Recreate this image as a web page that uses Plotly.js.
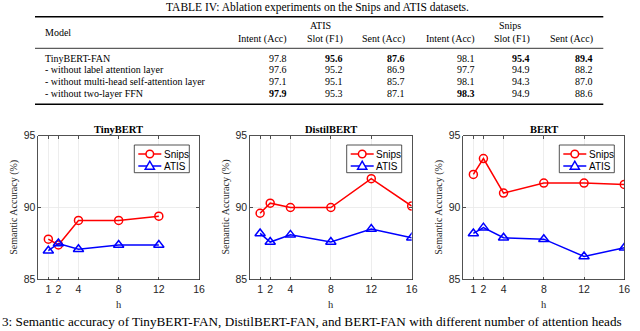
<!DOCTYPE html>
<html>
<head>
<meta charset="utf-8">
<script src="https://cdn.plot.ly/plotly-3.0.1.min.js"></script>
<style>
  html, body { margin: 0; padding: 0; background: #fff; }
  #chart { width: 640px; height: 331px; }
</style>
</head>
<body>
<div id="chart"></div>
<script>
// ---- table data (TABLE IV) ----
const tableTitle = 'TABLE IV: Ablation experiments on the Snips and ATIS datasets.';
const models = [
    'TinyBERT-FAN',
    '- without label attention layer',
    '- without multi-head self-attention layer',
    '- without two-layer FFN'
];
const colHeaders = ['Intent (Acc)', 'Slot (F1)', 'Sent (Acc)', 'Intent (Acc)', 'Slot (F1)', 'Sent (Acc)'];
const atisIntent = [97.8, 97.6, 97.1, 97.9];
const atisSlot = [95.6, 95.2, 95.1, 95.3];
const atisSent = [87.6, 86.9, 85.7, 87.1];
const snipsIntent = [98.1, 97.7, 98.1, 98.3];
const snipsSlot = [95.4, 94.9, 94.3, 94.9];
const snipsSent = [89.4, 88.2, 87.0, 88.6];

// ---- chart data (semantic accuracy vs number of heads h) ----
const panelTitles = ['TinyBERT', 'DistilBERT', 'BERT'];
const hTiny = [1, 2, 4, 8, 12];
const hFull = [1, 2, 4, 8, 12, 16];
const tinySnips = [87.8, 87.4, 89.1, 89.1, 89.4];
const tinyAtis = [87.0, 87.5, 87.1, 87.4, 87.4];
const distilSnips = [89.6, 90.3, 90.0, 90.0, 92.0, 90.1];
const distilAtis = [88.2, 87.6, 88.1, 87.6, 88.5, 87.9];
const bertSnips = [92.3, 93.4, 91.0, 91.7, 91.7, 91.6];
const bertAtis = [88.2, 88.6, 87.9, 87.8, 86.6, 87.2];
const xTicks = [1, 2, 4, 8, 12, 16];
const yTicks = [85, 90, 95];
const seriesNames = ['Snips', 'ATIS'];
const caption = '3: Semantic accuracy of TinyBERT-FAN, DistilBERT-FAN, and BERT-FAN with different number of attention heads';

const W = 640, H = 331;
const px = p => p / W;
const py = p => 1 - p / H;

const SERIF = 'Liberation Serif, Times New Roman, serif';
const SANS = 'Liberation Sans, Arial, Helvetica, sans-serif';
const AXC = '#262626';
const RED = '#ff0000', BLUE = '#0000ff';

// panel geometry (pixels)
const panels = [
    { x0: 38.3, x1: 199.0, legX: 134.3 },
    { x0: 250.0, x1: 411.7, legX: 346.7 },
    { x0: 463.3, x1: 624.3, legX: 559.3 }
];
const plotTop = 135.5, plotBottom = 279.5;

const series = [
    [hTiny, tinySnips, tinyAtis],
    [hFull, distilSnips, distilAtis],
    [hFull, bertSnips, bertAtis]
];

const traces = [];
const annotations = [];
const shapes = [];
const layout = {
    width: W,
    height: H,
    margin: { t: 0, r: 0, b: 0, l: 0 },
    paper_bgcolor: '#ffffff',
    plot_bgcolor: '#ffffff',
    font: { family: SANS, size: 10.5, color: AXC },
    showlegend: false
};

series.forEach(([hs, snips, atis], i) => {
    const n = i === 0 ? '' : String(i + 1);
    traces.push({
        x: hs, y: snips, name: seriesNames[0], type: 'scatter', mode: 'lines+markers',
        xaxis: 'x' + n, yaxis: 'y' + n,
        line: { color: RED, width: 1.5 },
        marker: { symbol: 'circle-open', size: 8, color: RED, line: { width: 1.5, color: RED } }
    });
    traces.push({
        x: hs, y: atis, name: seriesNames[1], type: 'scatter', mode: 'lines+markers',
        xaxis: 'x' + n, yaxis: 'y' + n,
        line: { color: BLUE, width: 1.5 },
        marker: { symbol: 'triangle-up-open', size: 9, color: BLUE, line: { width: 1.5, color: BLUE } }
    });

    const p = panels[i];
    const axCommon = {
        showline: true, linecolor: AXC, linewidth: 0.8, mirror: 'ticks',
        ticks: 'inside', ticklen: 3, tickcolor: AXC, tickwidth: 0.8,
        showgrid: true, gridcolor: '#e8e8e8', gridwidth: 0.8,
        zeroline: false, fixedrange: true,
        tickfont: { family: SANS, size: 10.5, color: AXC }
    };
    layout['xaxis' + n] = {
        ...axCommon,
        domain: [px(p.x0), px(p.x1)],
        anchor: 'y' + n,
        range: [0, 16],
        tickvals: xTicks,
        ticktext: xTicks.map(String)
    };
    layout['yaxis' + n] = {
        ...axCommon,
        domain: [py(plotBottom), py(plotTop)],
        anchor: 'x' + n,
        range: [85, 95],
        tickvals: yTicks,
        ticktext: yTicks.map(String)
    };

    // legend box drawn by hand (MATLAB style, compact)
    const lx = p.legX, lw = 55, ly0 = 145, ly1 = 172.7;
    shapes.push({
        type: 'rect', xref: 'paper', yref: 'paper',
        x0: px(lx), x1: px(lx + lw), y0: py(ly1), y1: py(ly0),
        fillcolor: '#ffffff', line: { color: AXC, width: 0.8 }, layer: 'above'
    });
    const rows = [154, 166];
    const cols = [RED, BLUE];
    rows.forEach((ry, k) => {
        shapes.push({
            type: 'line', xref: 'paper', yref: 'paper',
            x0: px(lx + 4), x1: px(lx + 27), y0: py(ry), y1: py(ry),
            line: { color: cols[k], width: 1.5 }, layer: 'above'
        });
        const mx = lx + 15.5;
        if (k === 0) {
            shapes.push({
                type: 'circle', xref: 'paper', yref: 'paper',
                x0: px(mx - 3.8), x1: px(mx + 3.8), y0: py(ry + 3.8), y1: py(ry - 3.8),
                fillcolor: '#ffffff', line: { color: RED, width: 1.5 }, layer: 'above'
            });
        } else {
            const path = 'M ' + px(mx - 4.6) + ',' + py(ry + 3.2) +
                ' L ' + px(mx + 4.6) + ',' + py(ry + 3.2) +
                ' L ' + px(mx) + ',' + py(ry - 4.8) + ' Z';
            shapes.push({
                type: 'path', xref: 'paper', yref: 'paper', path: path,
                fillcolor: '#ffffff', line: { color: BLUE, width: 1.5 }, layer: 'above'
            });
        }
        annotations.push({
            text: seriesNames[k], xref: 'paper', yref: 'paper',
            x: px(lx + 27.5), y: py(ry), xanchor: 'left', yanchor: 'middle', showarrow: false,
            font: { family: SANS, size: 10, color: '#000' }
        });
    });

    const cx = (p.x0 + p.x1) / 2;
    annotations.push({
        text: '<b>' + panelTitles[i] + '</b>', xref: 'paper', yref: 'paper',
        x: px(cx), y: py(129.5), showarrow: false, xanchor: 'center', yanchor: 'middle',
        font: { family: SERIF, size: 10.5, color: '#000' }
    });
    annotations.push({
        text: 'h', xref: 'paper', yref: 'paper',
        x: px(cx), y: py(304), showarrow: false, xanchor: 'center', yanchor: 'middle',
        font: { family: SERIF, size: 10.5, color: AXC }
    });
    annotations.push({
        text: 'Semantic Accuracy (%)', xref: 'paper', yref: 'paper', textangle: -90,
        x: px(p.x0 - 25), y: py((plotTop + plotBottom) / 2), showarrow: false,
        xanchor: 'center', yanchor: 'middle',
        font: { family: SERIF, size: 10, color: AXC }
    });
});

// ---- table drawn with annotations and rules ----
const tableLeft = 35, tableRight = 603.3;
shapes.push(
    { type: 'line', xref: 'paper', yref: 'paper', x0: px(tableLeft), x1: px(tableRight), y0: py(16.7), y1: py(16.7), line: { color: '#000', width: 1.6 } },
    { type: 'line', xref: 'paper', yref: 'paper', x0: px(tableLeft), x1: px(tableRight), y0: py(48.3), y1: py(48.3), line: { color: '#000', width: 0.8 } },
    { type: 'line', xref: 'paper', yref: 'paper', x0: px(tableLeft), x1: px(tableRight), y0: py(104.3), y1: py(104.3), line: { color: '#000', width: 1.6 } }
);

const tFont = { family: SERIF, size: 10, color: '#000' };
function tText(text, x, y, anchor) {
    annotations.push({
        text: text, xref: 'paper', yref: 'paper', x: px(x), y: py(y),
        xanchor: anchor, yanchor: 'middle', showarrow: false, font: tFont
    });
}

annotations.push({
    text: tableTitle, xref: 'paper', yref: 'paper', x: px(317), y: py(7),
    xanchor: 'center', yanchor: 'middle', showarrow: false,
    font: { family: SERIF, size: 11.5, color: '#000' }
});

tText('Model', 42.7, 33, 'left');
tText('ATIS', 320, 25, 'center');
tText('Snips', 510, 25, 'center');

const colRight = [288.7, 344.5, 407.3, 476.7, 532.3, 595.3];
colHeaders.forEach((h, j) => tText(h, colRight[j], 39.3, 'right'));

const rowY = [58.3, 69.6, 81.1, 93];
const columns = [atisIntent, atisSlot, atisSent, snipsIntent, snipsSlot, snipsSent];
models.forEach((m, r) => tText(m, 42.7, rowY[r], 'left'));
columns.forEach((col, j) => {
    const best = Math.max(...col);
    col.forEach((v, r) => {
        const s = v.toFixed(1);
        tText(v === best ? '<b>' + s + '</b>' : s, colRight[j], rowY[r], 'right');
    });
});

// figure caption
annotations.push({
    text: caption, xref: 'paper', yref: 'paper', x: px(0), y: py(321.5),
    xanchor: 'left', yanchor: 'middle', showarrow: false,
    font: { family: SERIF, size: 13.2, color: '#000' }
});

layout.annotations = annotations;
layout.shapes = shapes;

Plotly.newPlot('chart', traces, layout, { displayModeBar: false, staticPlot: true });
</script>
</body>
</html>
